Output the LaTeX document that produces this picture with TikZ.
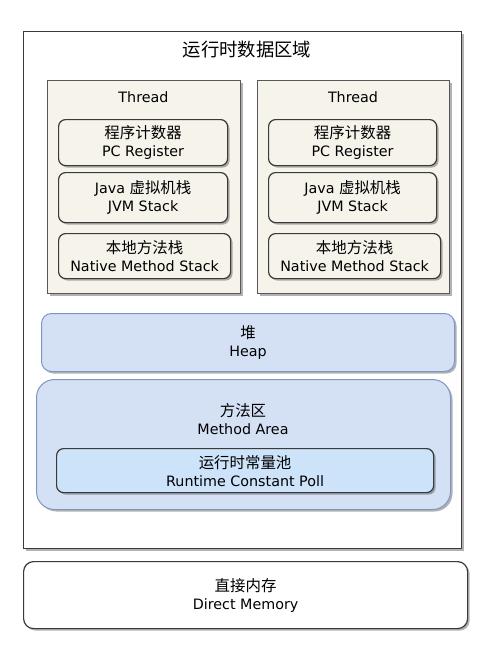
\documentclass[tikz,border=0pt]{standalone}
\usepackage{fontspec}
\setmainfont{DejaVu Sans}
\newfontfamily\cjk{Noto Sans CJK SC}[Scale=1.08]
\usetikzlibrary{shadows}
\definecolor{beige}{HTML}{F5F3EA}
\definecolor{edge}{HTML}{3A3A3A}
\definecolor{heapfill}{HTML}{D4E1F5}
\definecolor{heapedge}{HTML}{7D97C4}
\definecolor{poolfill}{HTML}{CCE3FA}
\begin{document}
\begin{tikzpicture}[x=1pt,y=-1pt,
  shd/.style={drop shadow={shadow xshift=2pt,shadow yshift=-2pt,opacity=0.3,fill=black}},
  box/.style={draw=edge,line width=1.2pt,inner sep=0pt,anchor=north west,align=center,
              font=\fontsize{14.3}{18}\selectfont,shd},
  threadbox/.style={box,fill=beige,draw=edge!85,line width=1pt},
  itembox/.style={box,fill=beige,rounded corners=7pt},
  bluebox/.style={box,fill=heapfill,draw=heapedge,line width=1pt},
  lbl/.style={inner sep=0pt,align=center,font=\fontsize{14.3}{18}\selectfont}
]
\useasboundingbox (0,0) rectangle (498,649);
% outer runtime data area
\node[box,fill=white,minimum width=438pt,minimum height=517pt] (outer) at (23,31) {};
\node[lbl,font=\fontsize{17}{20}\selectfont] (title) at (247,50) {\cjk 运行时数据区域};
% thread 1
\node[threadbox,minimum width=193pt,minimum height=213pt] (t1) at (47,80) {};
\node[lbl] (t1l) at (143.5,97) {Thread};
\node[itembox,minimum width=169pt,minimum height=46pt] (pc1) at (58,119) {{\cjk 程序计数器}\\PC Register};
\node[itembox,minimum width=169pt,minimum height=50pt] (jvm1) at (58,172) {Java {\cjk 虚拟机栈}\\JVM Stack};
\node[itembox,minimum width=172pt,minimum height=45pt] (nm1) at (58,233) {{\cjk 本地方法栈}\\Native Method Stack};
% thread 2
\node[threadbox,minimum width=192pt,minimum height=213pt] (t2) at (257,80) {};
\node[lbl] (t2l) at (353,97) {Thread};
\node[itembox,minimum width=168pt,minimum height=46pt] (pc2) at (268,119) {{\cjk 程序计数器}\\PC Register};
\node[itembox,minimum width=168pt,minimum height=50pt] (jvm2) at (268,172) {Java {\cjk 虚拟机栈}\\JVM Stack};
\node[itembox,minimum width=172pt,minimum height=45pt] (nm2) at (268,233) {{\cjk 本地方法栈}\\Native Method Stack};
% heap
\node[bluebox,rounded corners=10pt,minimum width=413pt,minimum height=58pt] (heap) at (41,313) {{\cjk 堆}\\Heap};
% method area
\node[bluebox,rounded corners=18pt,minimum width=414pt,minimum height=130pt] (ma) at (36,379) {};
\node[lbl] (mal) at (243,419) {{\cjk 方法区}\\Method Area};
\node[box,fill=poolfill,rounded corners=7pt,minimum width=377pt,minimum height=44pt] (pool) at (56,448) {{\cjk 运行时常量池}\\Runtime Constant Poll};
% direct memory
\node[box,fill=white,rounded corners=10pt,minimum width=444pt,minimum height=67pt] (dm) at (23,561) {{\cjk 直接内存}\\Direct Memory};
\end{tikzpicture}
\end{document}
